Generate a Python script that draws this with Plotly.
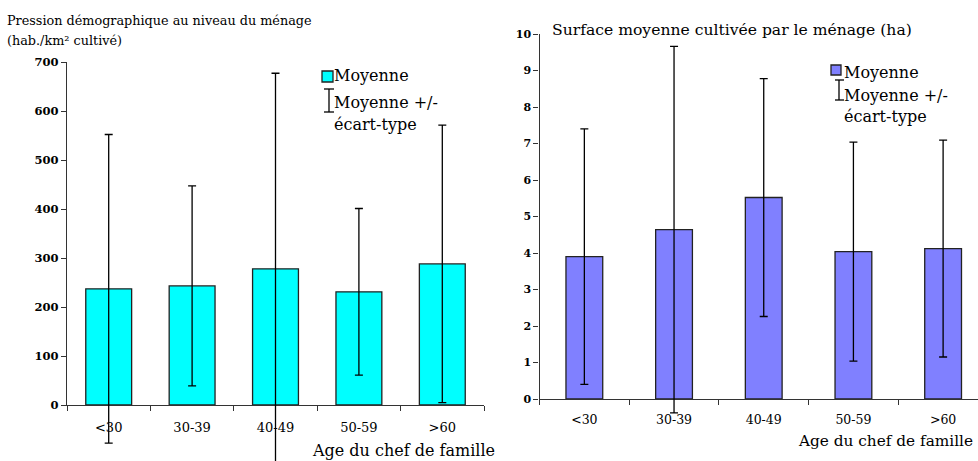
import plotly.graph_objects as go

# Data
age_classes = ["<30", "30-39", "40-49", "50-59", ">60"]

pression_moy = [237, 243, 278, 231, 288]
pression_sd = [315, 204, 399, 170, 283]

surface_moy = [3.9, 4.64, 5.52, 4.04, 4.12]
surface_sd = [3.5, 5.02, 3.26, 3.0, 2.97]

W, H = 978, 461
FONT = "DejaVu Serif"


def px(x):
    return x / W


def py(y):
    return 1 - y / H


fig = go.Figure()

# left panel: population pressure
fig.add_trace(go.Bar(
    x=age_classes, y=pression_moy, width=0.55,
    marker=dict(color="#00FFFF", line=dict(color="#222", width=1.3)),
    xaxis="x", yaxis="y",
))
# error bars live on a twin subplot that reaches the bottom edge, so they are not cut at y=0
fig.add_trace(go.Scatter(
    x=age_classes, y=pression_moy, mode="markers",
    marker=dict(size=2, opacity=0),
    error_y=dict(type="data", array=pression_sd, color="black", thickness=1.3, width=4),
    xaxis="x3", yaxis="y3",
))

# right panel: cultivated area
fig.add_trace(go.Bar(
    x=age_classes, y=surface_moy, width=0.41,
    marker=dict(color="#8080FF", line=dict(color="#222", width=1.3)),
    xaxis="x2", yaxis="y2",
))
fig.add_trace(go.Scatter(
    x=age_classes, y=surface_moy, mode="markers",
    marker=dict(size=2, opacity=0),
    error_y=dict(type="data", array=surface_sd, color="black", thickness=1.3, width=4),
    xaxis="x4", yaxis="y4",
))

axis_common = dict(showline=True, linecolor="#333", linewidth=1.3, ticks="outside",
                   ticklen=5, tickcolor="#333", tickwidth=1.3, showgrid=False,
                   zeroline=False, automargin=False)
hidden = dict(visible=False, automargin=False, showgrid=False, zeroline=False)

# left: 0 at y=405 px, 700 at y=62 px ; right: 0 at 399 px, 10 at 34 px
left_lo = -(H - 405) * 700 / (405 - 62)
right_lo = -(H - 399) * 10 / (399 - 34)

fig.update_layout(
    width=W, height=H,
    margin=dict(l=0, r=0, t=0, b=0, autoexpand=False),
    paper_bgcolor="white", plot_bgcolor="rgba(0,0,0,0)",
    showlegend=False,
    font=dict(family=FONT, color="black"),
    xaxis=dict(domain=[px(67), px(484)], anchor="y", range=[-0.5, 4.5],
               tickson="boundaries", ticklabelstandoff=10,
               tickfont=dict(size=13, family=FONT), **axis_common),
    yaxis=dict(domain=[py(405), py(62)], anchor="x", range=[0, 700], dtick=100,
               tickfont=dict(size=11.5, family=FONT, weight="bold"), **axis_common),
    xaxis2=dict(domain=[px(539.5), 1], anchor="y2", range=[-0.5, 4.389],
                tickson="boundaries", ticklabelstandoff=9,
                tickfont=dict(size=12.5, family=FONT), **axis_common),
    yaxis2=dict(domain=[py(399), py(34)], anchor="x2", range=[0, 10], dtick=1,
                tickfont=dict(size=11, family=FONT, weight="bold"), **axis_common),
    xaxis3=dict(domain=[px(67), px(484)], anchor="y3", range=[-0.5, 4.5], **hidden),
    yaxis3=dict(domain=[0, py(62)], anchor="x3", range=[left_lo, 700], **hidden),
    xaxis4=dict(domain=[px(539.5), 1], anchor="y4", range=[-0.5, 4.389], **hidden),
    yaxis4=dict(domain=[0, py(34)], anchor="x4", range=[right_lo, 10], **hidden),
)


def label(text, x, y, size):
    fig.add_annotation(text=text, x=px(x), y=py(y), xref="paper", yref="paper",
                       xanchor="left", yanchor="middle", showarrow=False,
                       font=dict(size=size, family=FONT, color="black"))


# titles
label("Pression démographique au niveau du ménage", 5, 20, 12.8)
label("(hab./km² cultivé)", 5, 41, 12.8)
label("Surface moyenne cultivée par le ménage (ha)", 550, 30, 15.6)
label("Age du chef de famille", 310, 450, 16)
label("Age du chef de famille", 796, 441, 15.3)

# left legend
fig.add_shape(type="rect", xref="paper", yref="paper", x0=px(322), x1=px(333),
              y0=py(82), y1=py(71), fillcolor="#00FFFF", line=dict(color="#222", width=1.3))
label("Moyenne", 332, 76, 16)
for seg in [(329, 89, 329, 112), (324, 89, 334, 89), (324, 112, 334, 112)]:
    fig.add_shape(type="line", xref="paper", yref="paper", x0=px(seg[0]), y0=py(seg[1]),
                  x1=px(seg[2]), y1=py(seg[3]), line=dict(color="black", width=1.3))
label("Moyenne +/-", 332, 102, 16)
label("écart-type", 332, 124, 16)

# right legend
fig.add_shape(type="rect", xref="paper", yref="paper", x0=px(831), x1=px(841),
              y0=py(75), y1=py(65), fillcolor="#8080FF", line=dict(color="#222", width=1.3))
label("Moyenne", 842, 72, 16)
for seg in [(839, 80, 839, 100), (835, 80, 844, 80), (835, 100, 844, 100)]:
    fig.add_shape(type="line", xref="paper", yref="paper", x0=px(seg[0]), y0=py(seg[1]),
                  x1=px(seg[2]), y1=py(seg[3]), line=dict(color="black", width=1.3))
label("Moyenne +/-", 842, 95, 16)
label("écart-type", 842, 117, 16)

fig.write_html("out.html", config={"displayModeBar": False},
               post_script="document.body.style.margin='0';")
